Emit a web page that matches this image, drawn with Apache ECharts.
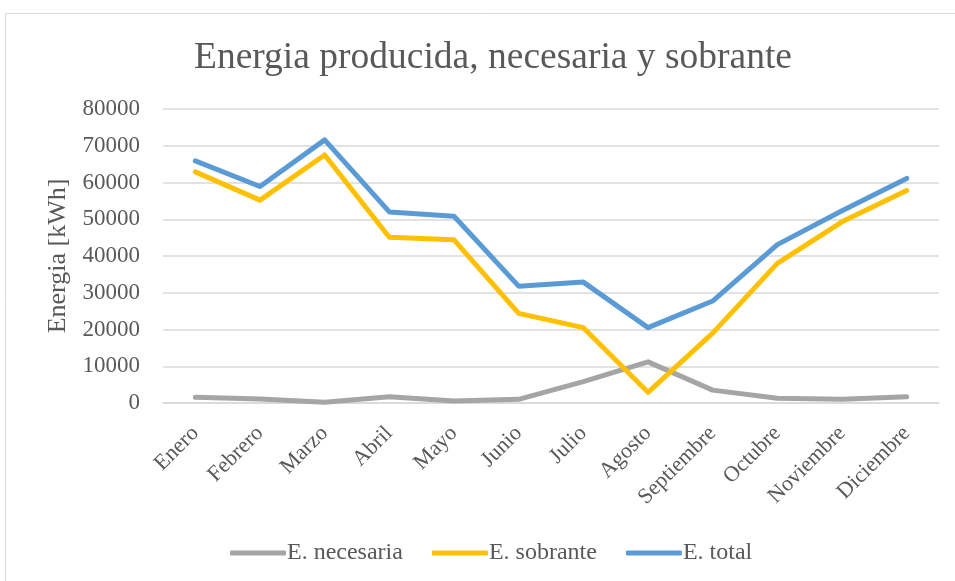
<!DOCTYPE html>
<html>
<head>
<meta charset="utf-8">
<script src="https://cdn.jsdelivr.net/npm/echarts@6/dist/echarts.min.js"></script>
<style>
  html, body { margin: 0; padding: 0; background: #fff; }
  #chart { width: 955px; height: 581px; }
</style>
</head>
<body>
<div id="chart"></div>
<script>
// Monthly energy figures in kWh
const months = ['Enero', 'Febrero', 'Marzo', 'Abril', 'Mayo', 'Junio', 'Julio', 'Agosto', 'Septiembre', 'Octubre', 'Noviembre', 'Diciembre'];
const necesaria = [1550, 1100, 200, 1700, 550, 1000, 5800, 11200, 3500, 1300, 1000, 1700];
const sobrante = [62900, 55200, 67500, 45100, 44400, 24400, 20500, 2900, 19000, 38000, 49300, 57800];
const total = [65900, 58900, 71600, 52000, 50800, 31800, 32900, 20500, 27750, 43100, 52300, 61100];

const serif = '"Liberation Serif", "Times New Roman", serif';
const textColor = '#595959';

const chart = echarts.init(document.getElementById('chart'), null, { renderer: 'canvas' });

function lineSeries(name, data, color) {
  return {
    name: name,
    type: 'line',
    data: data,
    showSymbol: false,
    symbol: 'none',
    lineStyle: { color: color, width: 5, cap: 'round', join: 'round' },
    itemStyle: { color: color },
    emphasis: { disabled: true }
  };
}

chart.setOption({
  animation: false,
  backgroundColor: '#fff',
  graphic: [{
    type: 'rect',
    shape: { x: 5.5, y: 13.5, width: 960, height: 580 },
    style: { fill: 'none', stroke: '#d9d9d9', lineWidth: 1 },
    silent: true
  }],
  title: {
    text: 'Energia producida, necesaria y sobrante',
    left: 189,
    top: 34,
    textStyle: { fontFamily: serif, fontSize: 37.5, fontWeight: 'normal', color: textColor }
  },
  grid: { left: 163, right: 16, top: 109, bottom: 178 },
  legend: {
    top: 536,
    left: 225,
    icon: 'roundRect',
    itemWidth: 56,
    itemHeight: 5,
    itemGap: 29,
    textStyle: { fontFamily: serif, fontSize: 24, color: textColor, padding: [0, 0, 0, -4] },
    data: ['E. necesaria', 'E. sobrante', 'E. total']
  },
  xAxis: {
    type: 'category',
    data: months,
    boundaryGap: true,
    axisLine: { show: true, lineStyle: { color: '#d9d9d9', width: 1.5 } },
    axisTick: { show: false },
    axisLabel: {
      rotate: 45,
      interval: 0,
      margin: 27,
      fontFamily: serif,
      fontSize: 22,
      color: textColor
    }
  },
  yAxis: {
    type: 'value',
    min: 0,
    max: 80000,
    interval: 10000,
    name: 'Energia [kWh]',
    nameLocation: 'middle',
    nameGap: 89,
    nameTextStyle: { fontFamily: serif, fontSize: 26, color: textColor },
    axisLine: { show: false },
    axisTick: { show: false },
    axisLabel: {
      fontFamily: serif,
      fontSize: 23,
      color: textColor,
      margin: 23,
      formatter: function (v) { return String(v); }
    },
    splitLine: { lineStyle: { color: '#d9d9d9', width: 1.5 } }
  },
  series: [
    lineSeries('E. necesaria', necesaria, '#a5a5a5'),
    lineSeries('E. sobrante', sobrante, '#ffc000'),
    lineSeries('E. total', total, '#5b9bd5')
  ]
});
</script>
</body>
</html>
